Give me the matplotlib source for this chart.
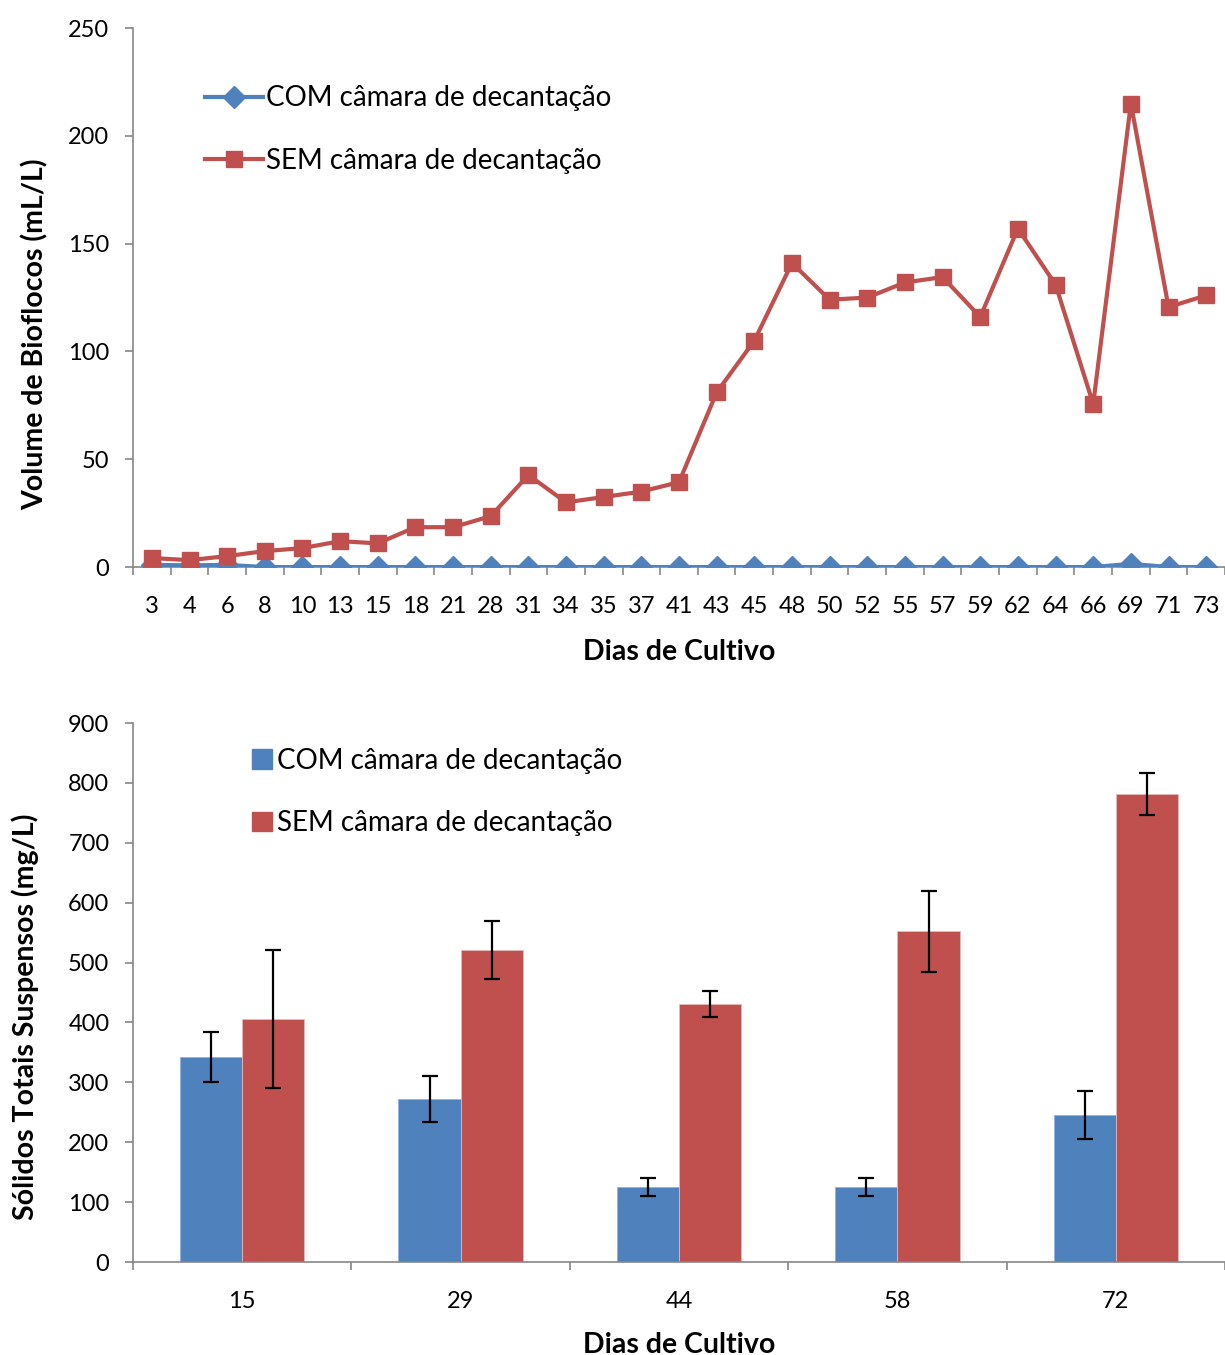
import numpy as np
import matplotlib.pyplot as plt
from matplotlib.patches import Patch
from matplotlib.lines import Line2D

plt.rcParams['font.family'] = ['Lato', 'DejaVu Sans']

# top chart: biofloc volume per culture day
dias = ['3', '4', '6', '8', '10', '13', '15', '18', '21', '28', '31', '34', '35', '37', '41',
        '43', '45', '48', '50', '52', '55', '57', '59', '62', '64', '66', '69', '71', '73']
com_vol = [1, 0.8, 1, 0, 0, 0, 0, 0, 0, 0, 0, 0, 0, 0, 0,
           0, 0, 0, 0, 0, 0, 0, 0, 0, 0, 0, 1.5, 0, 0]
sem_vol = [4.2, 3.2, 5.1, 7.4, 8.8, 12, 11, 18.5, 18.5, 23.6, 42.7, 30, 32.5, 35, 39.4,
           81, 105, 141, 124, 125, 132, 134.5, 116, 157, 131, 75.6, 215, 120.6, 126]

# bottom chart: total suspended solids
dias_sst = ['15', '29', '44', '58', '72']
com_sst = [342, 272, 125, 125, 246]
com_err = [42, 38, 15, 15, 40]
sem_sst = [406, 521, 431, 552, 782]
sem_err = [115, 49, 22, 67, 35]

blue = '#4F81BD'
red = '#C0504D'
grey = '#868686'

fig = plt.figure(figsize=(12.25, 13.55), dpi=100)
ax1 = fig.add_axes([0.1086, 0.5815, 0.8914, 0.3978])
ax2 = fig.add_axes([0.1086, 0.0686, 0.8914, 0.3978])


def style_axes(ax):
    for s in ['top', 'right']:
        ax.spines[s].set_visible(False)
    for s in ['left', 'bottom']:
        ax.spines[s].set_color(grey)
        ax.spines[s].set_linewidth(1.2)
    ax.tick_params(axis='y', which='major', direction='out', length=6, width=1.2,
                   color=grey, labelsize=17, pad=11)
    ax.tick_params(axis='x', which='major', length=0, labelsize=17, pad=21)
    ax.tick_params(axis='x', which='minor', direction='out', length=6, width=1.2, color=grey)


# --- top
x = np.arange(len(dias))
ax1.plot(x, com_vol, color=blue, lw=3, marker='D', ms=11, zorder=3)
ax1.plot(x, sem_vol, color=red, lw=3, marker='s', ms=11, zorder=4)
ax1.set_xlim(-0.5, len(dias) - 0.5)
ax1.set_ylim(0, 250)
ax1.set_yticks(range(0, 251, 50))
ax1.set_xticks(x)
ax1.set_xticklabels(dias)
ax1.set_xticks(np.arange(-0.5, len(dias), 1), minor=True)
style_axes(ax1)
ax1.set_xlabel('Dias de Cultivo', fontsize=20.5, fontweight='bold', labelpad=16)
ax1.set_ylabel('Volume de Bioflocos (mL/L)', fontsize=20.5, fontweight='bold')
ax1.yaxis.set_label_coords(-0.077, 0.432)
h1 = [Line2D([], [], color=blue, lw=3, marker='D', ms=11),
      Line2D([], [], color=red, lw=3, marker='s', ms=11)]
ax1.legend(h1, ['COM câmara de decantação', 'SEM câmara de decantação'],
           loc='upper left', bbox_to_anchor=(0.043, 0.94), frameon=False,
           fontsize=20, handlelength=2.1, handletextpad=0.1, labelspacing=1.3)

# --- bottom
x2 = np.arange(len(dias_sst))
w = 0.285
ekw = dict(ecolor='black', elinewidth=1.6, capsize=6, capthick=1.6)
ax2.bar(x2 - w / 2, com_sst, w, color=blue, edgecolor='#8EB4E3', linewidth=0.6,
        yerr=com_err, error_kw=ekw, zorder=2)
ax2.bar(x2 + w / 2, sem_sst, w, color=red, edgecolor='#E6B9B8', linewidth=0.6,
        yerr=sem_err, error_kw=ekw, zorder=2)
ax2.set_xlim(-0.5, len(dias_sst) - 0.5)
ax2.set_ylim(0, 900)
ax2.set_yticks(range(0, 901, 100))
ax2.set_xticks(x2)
ax2.set_xticklabels(dias_sst)
ax2.set_xticks(np.arange(-0.5, len(dias_sst), 1), minor=True)
style_axes(ax2)
ax2.set_xlabel('Dias de Cultivo', fontsize=20.5, fontweight='bold', labelpad=14)
ax2.set_ylabel('Sólidos Totais Suspensos (mg/L)', fontsize=20.5, fontweight='bold')
ax2.yaxis.set_label_coords(-0.086, 0.4545)
h2 = [Patch(color=blue), Patch(color=red)]
ax2.legend(h2, ['COM câmara de decantação', 'SEM câmara de decantação'],
           loc='upper left', bbox_to_anchor=(0.086, 1.0), frameon=False,
           fontsize=20, handlelength=0.72, handleheight=0.72, handletextpad=0.2,
           labelspacing=1.3)

fig.savefig('out.png', dpi=100)
